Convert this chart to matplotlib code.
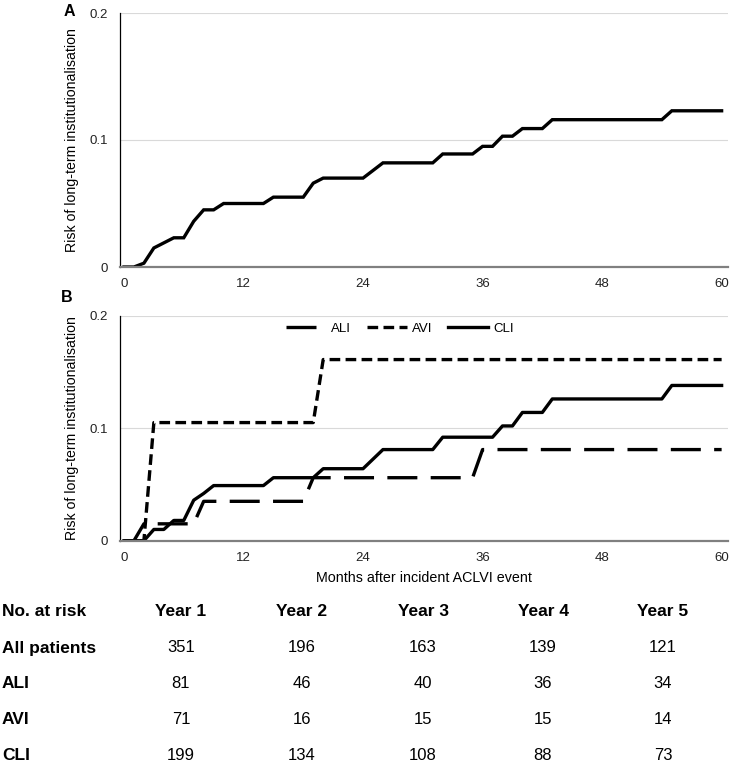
import matplotlib
matplotlib.use('Agg')
import matplotlib.pyplot as plt

plt.rcParams['font.family'] = ['Liberation Sans', 'DejaVu Sans']

# panel A - all patients (cumulative risk, monthly vertices)
months_all = [0, 1, 2, 3, 4, 5, 6, 7, 8, 9, 10, 14, 15, 18, 19, 20, 24, 26, 31, 32,
              35, 36, 37, 38, 39, 40, 42, 43, 54, 55, 60]
risk_all = [0, 0, 0.003, 0.015, 0.019, 0.023, 0.023, 0.036, 0.045, 0.045, 0.050, 0.050,
            0.055, 0.055, 0.066, 0.070, 0.070, 0.082, 0.082, 0.089, 0.089, 0.095, 0.095,
            0.103, 0.103, 0.109, 0.109, 0.116, 0.116, 0.123, 0.123]

# panel B - by event type
months_ali = [0, 1, 2, 7, 8, 18, 19, 35, 36, 60]
risk_ali = [0, 0, 0.015, 0.015, 0.035, 0.035, 0.056, 0.056, 0.081, 0.081]

months_avi = [0, 2, 3, 19, 20, 60]
risk_avi = [0, 0, 0.105, 0.105, 0.161, 0.161]

months_cli = [0, 2, 3, 4, 5, 6, 7, 8, 9, 14, 15, 19, 20, 24, 26, 31, 32, 37, 38, 39,
              40, 42, 43, 54, 55, 60]
risk_cli = [0, 0, 0.010, 0.010, 0.018, 0.018, 0.036, 0.042, 0.049, 0.049, 0.056, 0.056,
            0.064, 0.064, 0.081, 0.081, 0.092, 0.092, 0.102, 0.102, 0.114, 0.114, 0.126,
            0.126, 0.138, 0.138]

x_ticks = [0, 12, 24, 36, 48, 60]
y_ticks = [0, 0.1, 0.2]
y_tick_labels = ['0', '0.1', '0.2']

# numbers at risk table
table_header = ['No. at risk', 'Year 1', 'Year 2', 'Year 3', 'Year 4', 'Year 5']
row_names = ['All patients', 'ALI', 'AVI', 'CLI']
at_risk_all = [351, 196, 163, 139, 121]
at_risk_ali = [81, 46, 40, 36, 34]
at_risk_avi = [71, 16, 15, 15, 14]
at_risk_cli = [199, 134, 108, 88, 73]

W, H = 733, 766
fig = plt.figure(figsize=(W / 100, H / 100), dpi=100)


def style_axes(ax):
    ax.set_xlim(-0.4, 60.6)
    ax.set_ylim(0, 0.2)
    ax.set_xticks(x_ticks)
    ax.set_yticks(y_ticks)
    ax.set_yticklabels(y_tick_labels)
    ax.tick_params(length=0, labelsize=9.5, colors='#222222')
    ax.tick_params(axis='y', pad=9)
    ax.tick_params(axis='x', pad=8)
    for s in ['top', 'right']:
        ax.spines[s].set_visible(False)
    ax.spines['left'].set_color('black')
    ax.spines['left'].set_linewidth(0.9)
    ax.spines['bottom'].set_color('#808080')
    ax.spines['bottom'].set_linewidth(1.6)
    ax.grid(axis='y', color='#d9d9d9', linewidth=0.8)
    ax.set_axisbelow(True)
    ax.set_ylabel('Risk of long-term institutionalisation', fontsize=10.2)
    ax.yaxis.set_label_coords(-0.0675, 0.5)


def px_box(left, top, right, bottom):
    return [left / W, 1 - bottom / H, (right - left) / W, (bottom - top) / H]


axA = fig.add_axes(px_box(120, 13, 727.6, 267))
axA.plot(months_all, risk_all, color='black', lw=2.4, solid_joinstyle='miter')
style_axes(axA)
fig.text(69 / W, 1 - 12 / H, 'A', fontsize=11.5, fontweight='bold', ha='center', va='center')

axB = fig.add_axes(px_box(120, 315.7, 727.6, 540.7))
axB.plot(months_ali, risk_ali, color='black', lw=2.4, dashes=(9, 4), label='ALI')
axB.plot(months_avi, risk_avi, color='black', lw=2.4, dashes=(3.2, 1.6), label='AVI')
axB.plot(months_cli, risk_cli, color='black', lw=2.4, label='CLI')
style_axes(axB)
axB.set_xlabel('Months after incident ACLVI event', fontsize=10.3, labelpad=5)
axB.legend(loc='center', bbox_to_anchor=((400 - 120) / 607.6, (540.7 - 329) / 225),
           ncol=3, frameon=False, fontsize=9.5, handlelength=3.0, columnspacing=1.2,
           handletextpad=0.4)
fig.text(67 / W, 1 - 297 / H, 'B', fontsize=11.5, fontweight='bold', ha='center', va='center')

# table
col_x = [181, 302, 423, 543, 663]
row_y = [611, 648, 684, 720, 756]
fig.text(2 / W, 1 - row_y[0] / H, table_header[0], fontsize=12.5, fontweight='bold',
         ha='left', va='center')
for cx, h in zip(col_x, table_header[1:]):
    fig.text(cx / W, 1 - row_y[0] / H, h, fontsize=12.5, fontweight='bold',
             ha='center', va='center')
rows = [at_risk_all, at_risk_ali, at_risk_avi, at_risk_cli]
for ry, name, vals in zip(row_y[1:], row_names, rows):
    fig.text(2 / W, 1 - ry / H, name, fontsize=12.5, fontweight='bold',
             ha='left', va='center')
    for cx, v in zip(col_x, vals):
        fig.text(cx / W, 1 - ry / H, str(v), fontsize=12, ha='center', va='center')

fig.savefig('out.png', dpi=100)
